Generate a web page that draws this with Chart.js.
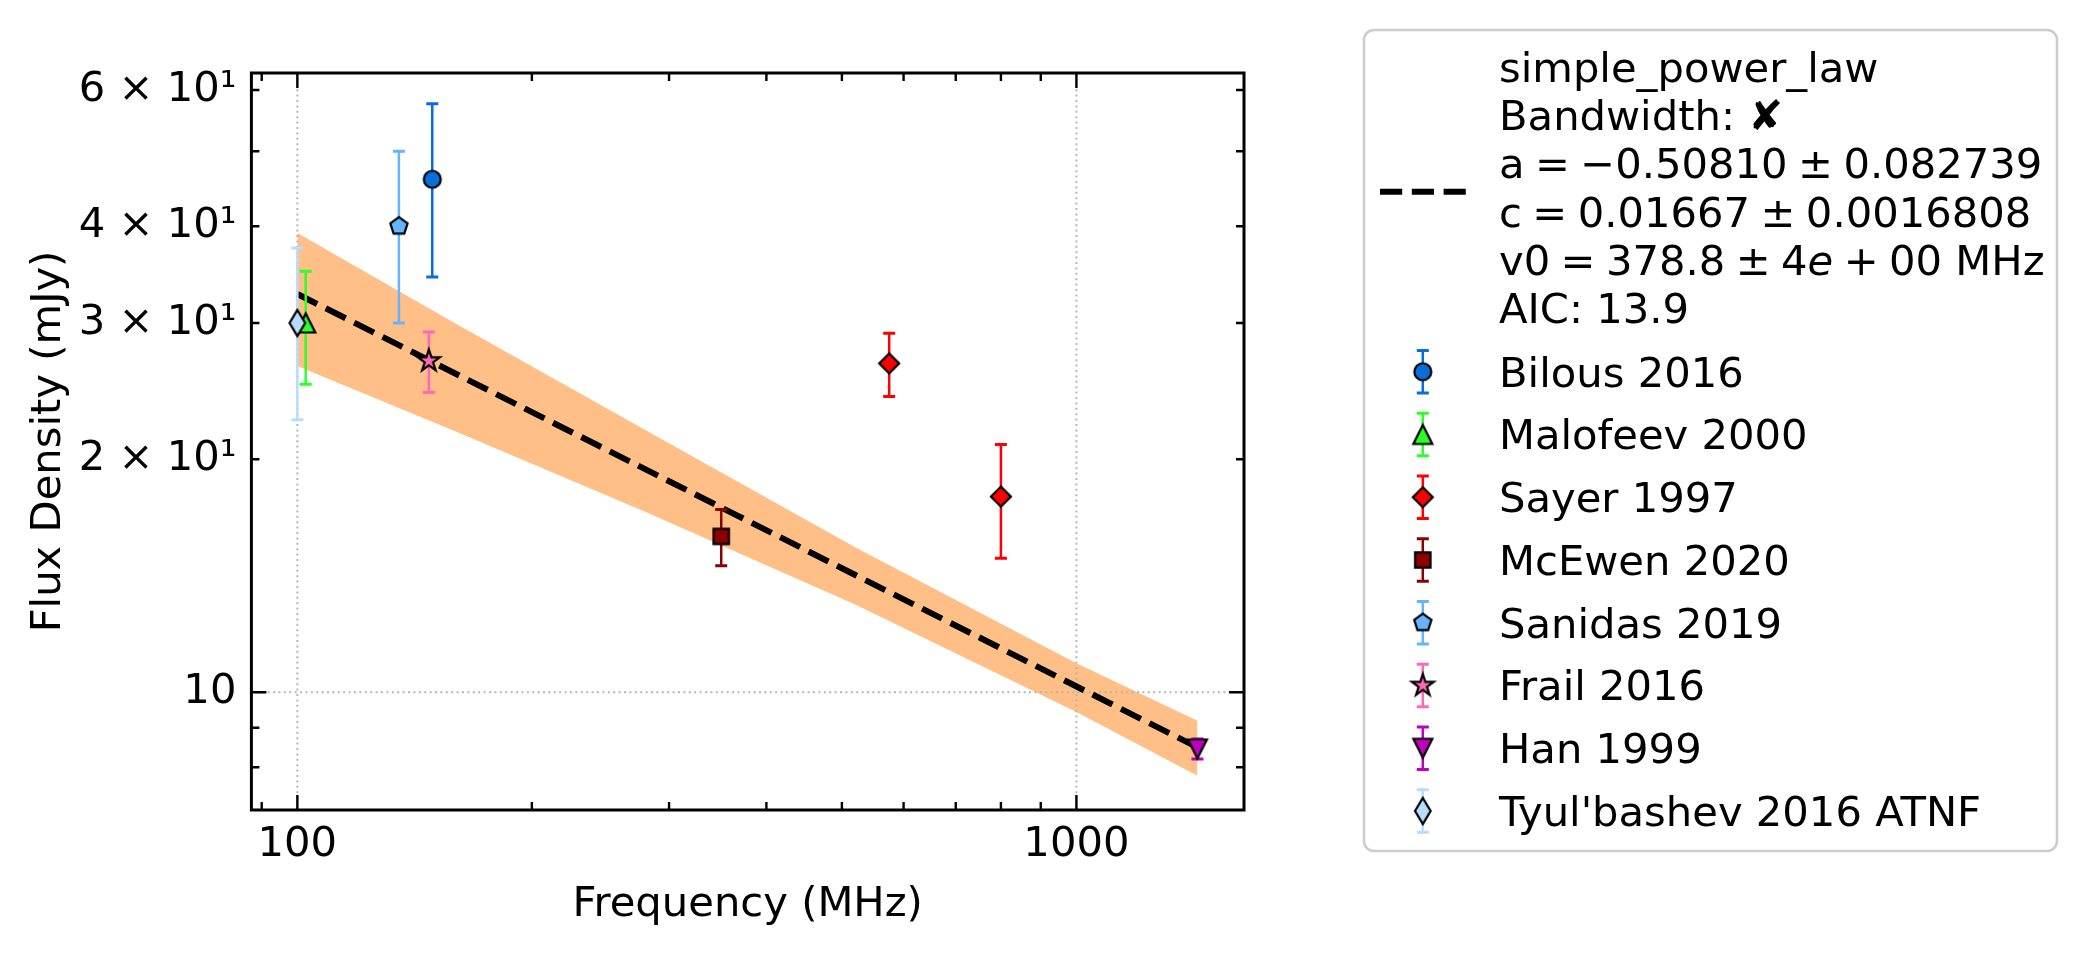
<!DOCTYPE html>
<html>
<head>
<meta charset="utf-8">
<script src="https://cdn.jsdelivr.net/npm/chart.js@4.4.1/dist/chart.umd.min.js"></script>
<style>
  html, body { margin: 0; padding: 0; background: #ffffff; }
  #wrap { width: 2086px; height: 955px; }
</style>
</head>
<body>
<div id="wrap"><canvas id="spectrumChart" width="2086" height="955"></canvas></div>
<script>
const FONT = "'DejaVu Sans', 'Liberation Sans', sans-serif";
const FONT_SIZE = 41.7;

// flux density measurements (MHz, mJy, 1-sigma error)
const bilousFreq = [149];          const bilousFlux = [46.0];        const bilousErr = [11.6];
const malofeevFreq = [102.5];      const malofeevFlux = [30.0];      const malofeevErr = [5.0];
const sayerFreq = [575, 800];      const sayerFlux = [26.6, 17.9];   const sayerErr = [2.5, 3.0];
const mcewenFreq = [350];          const mcewenFlux = [15.9];        const mcewenErr = [1.33];
const sanidasFreq = [135];         const sanidasFlux = [40.0];       const sanidasErr = [10.0];
const frailFreq = [147.5];         const frailFlux = [26.8];         const frailErr = [2.4];
const hanFreq = [1430];            const hanFlux = [8.45];           const hanErr = [0.25];
const tyulFreq = [100];            const tyulFlux = [30.0];          const tyulErr = [7.5];

// fitted power law and its uncertainty band
const fitFreq = [100, 1430];
const fitFlux = [32.7, 8.49];
const bandFreq = [100, 160, 280, 520, 1000, 1430];
const bandUpper = [39.2, 29.9, 21.8, 15.4, 10.9, 9.19];
const bandLower = [26.4, 21.7, 17.1, 12.98, 9.43, 7.80];

// math-style spacing (narrower than a normal space)
const SP = "\u2005";
const fitLegendLines = [
  [["simple_power_law", false]],
  [["Bandwidth: \u2718", false]],
  [["a" + SP + "=" + SP + "\u22120.50810" + SP + "\u00b1" + SP + "0.082739", false]],
  [["c" + SP + "=" + SP + "0.01667" + SP + "\u00b1" + SP + "0.0016808", false]],
  [["v0" + SP + "=" + SP + "378.8" + SP + "\u00b1" + SP + "4", false], ["e", true], [SP + "+" + SP + "00 MHz", false]],
  [["AIC: 13.9", false]]
];

// axis ticks
const xTickValues = [100, 1000];
const xTickLabels = ["100", "1000"];
const xMinorTicks = [90, 200, 300, 400, 500, 600, 700, 800, 900];
const yTickValues = [10, 20, 30, 40, 60];
const yTickLabels = ["10", "2 \u00d7 10\u00b9", "3 \u00d7 10\u00b9", "4 \u00d7 10\u00b9", "6 \u00d7 10\u00b9"];
const yMajorTicks = [10];
const yMinorTicks = [8, 9, 20, 30, 40, 50, 60];

function makeMarker(shape, fill) {
  const size = 34;
  const c = document.createElement("canvas");
  c.width = size;
  c.height = size;
  const g = c.getContext("2d");
  g.translate(size / 2, size / 2);
  g.beginPath();
  if (shape === "circle") {
    g.arc(0, 0, 8.5, 0, Math.PI * 2);
  } else if (shape === "triangleUp") {
    g.moveTo(0, -9.5); g.lineTo(9.5, 9.5); g.lineTo(-9.5, 9.5); g.closePath();
  } else if (shape === "triangleDown") {
    g.moveTo(0, 9.5); g.lineTo(9.5, -9.5); g.lineTo(-9.5, -9.5); g.closePath();
  } else if (shape === "diamond") {
    g.moveTo(0, -10); g.lineTo(10, 0); g.lineTo(0, 10); g.lineTo(-10, 0); g.closePath();
  } else if (shape === "thinDiamond") {
    g.moveTo(0, -13); g.lineTo(7.8, 0); g.lineTo(0, 13); g.lineTo(-7.8, 0); g.closePath();
  } else if (shape === "square") {
    g.rect(-7.7, -7.7, 15.4, 15.4);
  } else if (shape === "pentagon") {
    for (let k = 0; k < 5; k++) {
      const a = -Math.PI / 2 + k * 2 * Math.PI / 5;
      const px = 9.1 * Math.cos(a), py = 9.1 * Math.sin(a);
      if (k === 0) g.moveTo(px, py); else g.lineTo(px, py);
    }
    g.closePath();
  } else if (shape === "star") {
    for (let k = 0; k < 10; k++) {
      const a = -Math.PI / 2 + k * Math.PI / 5;
      const r = k % 2 === 0 ? 11.5 : 11.5 * 0.382;
      const px = r * Math.cos(a), py = r * Math.sin(a);
      if (k === 0) g.moveTo(px, py); else g.lineTo(px, py);
    }
    g.closePath();
  }
  g.fillStyle = fill;
  g.fill();
  g.lineWidth = 2.2;
  g.lineJoin = "miter";
  g.strokeStyle = "#000000";
  g.stroke();
  return c;
}

const sources = [
  { label: "Bilous 2016", freq: bilousFreq, flux: bilousFlux, err: bilousErr, color: "#0a6ed8", shape: "circle" },
  { label: "Malofeev 2000", freq: malofeevFreq, flux: malofeevFlux, err: malofeevErr, color: "#2cff2c", shape: "triangleUp" },
  { label: "Sayer 1997", freq: sayerFreq, flux: sayerFlux, err: sayerErr, color: "#ff0000", shape: "diamond" },
  { label: "McEwen 2020", freq: mcewenFreq, flux: mcewenFlux, err: mcewenErr, color: "#8b0000", shape: "square" },
  { label: "Sanidas 2019", freq: sanidasFreq, flux: sanidasFlux, err: sanidasErr, color: "#66b3ff", shape: "pentagon" },
  { label: "Frail 2016", freq: frailFreq, flux: frailFlux, err: frailErr, color: "#ff69b4", shape: "star" },
  { label: "Han 1999", freq: hanFreq, flux: hanFlux, err: hanErr, color: "#c000c0", shape: "triangleDown" },
  { label: "Tyul'bashev 2016 ATNF", freq: tyulFreq, flux: tyulFlux, err: tyulErr, color: "#b8dcff", shape: "thinDiamond" }
];

function pts(xs, ys) {
  return xs.map((x, i) => ({ x: x, y: ys[i] }));
}

// error bars are drawn just before each dataset's markers
const errorBars = {
  id: "errorBars",
  beforeDatasetDraw(chart, args) {
    const ds = chart.data.datasets[args.index];
    if (!ds.yErr) return;
    const ctx = chart.ctx;
    const xs = chart.scales.x, ys = chart.scales.y;
    ctx.save();
    ctx.strokeStyle = ds.errColor;
    ds.data.forEach((p, i) => {
      const px = xs.getPixelForValue(p.x);
      const top = ys.getPixelForValue(p.y + ds.yErr[i]);
      const bot = ys.getPixelForValue(p.y - ds.yErr[i]);
      ctx.lineWidth = 2.5;
      ctx.beginPath();
      ctx.moveTo(px, top);
      ctx.lineTo(px, bot);
      ctx.stroke();
      ctx.lineWidth = 3;
      ctx.beginPath();
      ctx.moveTo(px - 6, top); ctx.lineTo(px + 6, top);
      ctx.moveTo(px - 6, bot); ctx.lineTo(px + 6, bot);
      ctx.stroke();
    });
    ctx.restore();
  }
};

// dotted grid at the decades, inward ticks on all four sides, frame
const axesDecor = {
  id: "axesDecor",
  afterDatasetDraw(chart, args) {
    const ds = chart.data.datasets[args.index];
    if (!ds.gridAfter) return;
    const { ctx, chartArea: a } = chart;
    const xs = chart.scales.x, ys = chart.scales.y;
    ctx.save();
    ctx.strokeStyle = "#b5b5b5";
    ctx.lineWidth = 2;
    ctx.setLineDash([2, 3.4]);
    xTickValues.forEach(v => {
      const px = xs.getPixelForValue(v);
      ctx.beginPath(); ctx.moveTo(px, a.top); ctx.lineTo(px, a.bottom); ctx.stroke();
    });
    yMajorTicks.forEach(v => {
      const py = ys.getPixelForValue(v);
      ctx.beginPath(); ctx.moveTo(a.left, py); ctx.lineTo(a.right, py); ctx.stroke();
    });
    ctx.restore();
  },
  afterDatasetsDraw(chart) {
    const { ctx, chartArea: a } = chart;
    const xs = chart.scales.x, ys = chart.scales.y;
    ctx.save();
    ctx.strokeStyle = "#000000";
    ctx.lineWidth = 2.4;
    const xTick = (v, len) => {
      const px = xs.getPixelForValue(v);
      ctx.beginPath();
      ctx.moveTo(px, a.bottom); ctx.lineTo(px, a.bottom - len);
      ctx.moveTo(px, a.top); ctx.lineTo(px, a.top + len);
      ctx.stroke();
    };
    const yTick = (v, len) => {
      const py = ys.getPixelForValue(v);
      ctx.beginPath();
      ctx.moveTo(a.left, py); ctx.lineTo(a.left + len, py);
      ctx.moveTo(a.right, py); ctx.lineTo(a.right - len, py);
      ctx.stroke();
    };
    xTickValues.forEach(v => xTick(v, 15));
    xMinorTicks.forEach(v => xTick(v, 8));
    yMajorTicks.forEach(v => yTick(v, 15));
    yMinorTicks.forEach(v => yTick(v, 8));
    ctx.lineWidth = 3;
    ctx.strokeRect(a.left, a.top, a.right - a.left, a.bottom - a.top);
    ctx.restore();
  }
};

function drawSegments(ctx, segs, x, y) {
  let cx = x;
  segs.forEach(([text, italic]) => {
    ctx.font = (italic ? "italic " : "") + FONT_SIZE + "px " + FONT;
    ctx.fillText(text, cx, y);
    cx += ctx.measureText(text).width;
  });
}

const legendBox = {
  id: "legendBox",
  afterDraw(chart) {
    const ctx = chart.ctx;
    const bx = 1364, by = 30, bw = 693, bh = 821, r = 10;
    ctx.save();
    ctx.beginPath();
    ctx.moveTo(bx + r, by);
    ctx.lineTo(bx + bw - r, by);
    ctx.arcTo(bx + bw, by, bx + bw, by + r, r);
    ctx.lineTo(bx + bw, by + bh - r);
    ctx.arcTo(bx + bw, by + bh, bx + bw - r, by + bh, r);
    ctx.lineTo(bx + r, by + bh);
    ctx.arcTo(bx, by + bh, bx, by + bh - r, r);
    ctx.lineTo(bx, by + r);
    ctx.arcTo(bx, by, bx + r, by, r);
    ctx.closePath();
    ctx.fillStyle = "rgba(255,255,255,0.8)";
    ctx.fill();
    ctx.lineWidth = 2.5;
    ctx.strokeStyle = "#cccccc";
    ctx.stroke();

    // fit entry
    const fit = chart.data.datasets.find(d => d.isFit);
    ctx.strokeStyle = fit.borderColor;
    ctx.lineWidth = fit.borderWidth;
    ctx.setLineDash(fit.borderDash);
    ctx.beginPath();
    ctx.moveTo(1380, 191.7);
    ctx.lineTo(1466, 191.7);
    ctx.stroke();
    ctx.setLineDash([]);

    ctx.fillStyle = "#000000";
    ctx.textBaseline = "alphabetic";
    ctx.textAlign = "left";
    fitLegendLines.forEach((segs, k) => drawSegments(ctx, segs, 1499, 81.7 + 48.3 * k));

    // measurement entries
    const pointSets = chart.data.datasets.filter(d => d.yErr);
    pointSets.forEach((ds, k) => {
      const cy = 371.7 + 62.75 * k;
      const mx = 1422.8;
      ctx.strokeStyle = ds.errColor;
      ctx.lineWidth = 2.5;
      ctx.beginPath(); ctx.moveTo(mx, cy - 21.3); ctx.lineTo(mx, cy + 21.3); ctx.stroke();
      ctx.lineWidth = 3;
      ctx.beginPath();
      ctx.moveTo(mx - 6, cy - 21.3); ctx.lineTo(mx + 6, cy - 21.3);
      ctx.moveTo(mx - 6, cy + 21.3); ctx.lineTo(mx + 6, cy + 21.3);
      ctx.stroke();
      const img = ds.pointStyle;
      ctx.drawImage(img, mx - img.width / 2, cy - img.height / 2);
      ctx.fillStyle = "#000000";
      ctx.font = FONT_SIZE + "px " + FONT;
      ctx.fillText(ds.label, 1499, cy + 15);
    });
    ctx.restore();
  }
};

const datasets = [
  {
    type: "line", label: "band upper", data: pts(bandFreq, bandUpper),
    borderColor: "rgba(0,0,0,0)", borderWidth: 0, pointRadius: 0,
    fill: "+1", backgroundColor: "#ffbf86", order: 100
  },
  {
    type: "line", label: "band lower", data: pts(bandFreq, bandLower),
    borderColor: "rgba(0,0,0,0)", borderWidth: 0, pointRadius: 0,
    fill: false, order: 99, gridAfter: true
  },
  {
    type: "line", label: "simple_power_law", data: pts(fitFreq, fitFlux), isFit: true,
    borderColor: "#000000", borderWidth: 6, borderDash: [22.2, 9.6], borderCapStyle: "butt",
    pointRadius: 0, fill: false, order: 60
  }
];
sources.forEach((s, i) => {
  datasets.push({
    label: s.label,
    data: pts(s.freq, s.flux),
    yErr: s.err,
    errColor: s.color,
    pointStyle: makeMarker(s.shape, s.color),
    pointRadius: 10,
    order: 50 - i
  });
});

const ctx = document.getElementById("spectrumChart").getContext("2d");
const spectrumChart = new Chart(ctx, {
  type: "scatter",
  data: { datasets: datasets },
  plugins: [errorBars, axesDecor, legendBox],
  options: {
    responsive: false,
    animation: false,
    devicePixelRatio: 1,
    layout: { padding: { top: 73, right: 842, left: 0, bottom: 0 } },
    plugins: { legend: { display: false }, tooltip: { enabled: false } },
    scales: {
      x: {
        type: "logarithmic", position: "bottom", min: 87.3, max: 1641,
        afterBuildTicks: (s) => { s.ticks = xTickValues.map(v => ({ value: v })); },
        afterFit: (s) => { s.height = 145; },
        grid: { display: false, drawTicks: false },
        border: { display: false },
        ticks: {
          color: "#000000", padding: 10, maxRotation: 0, autoSkip: false,
          font: { family: FONT, size: FONT_SIZE },
          callback: (v, i) => xTickLabels[i]
        },
        title: {
          display: true, text: "Frequency (MHz)", color: "#000000",
          font: { family: FONT, size: FONT_SIZE }, padding: { top: 0, bottom: 25 }
        }
      },
      y: {
        type: "logarithmic", position: "left", min: 7.046, max: 63.1,
        afterBuildTicks: (s) => { s.ticks = yTickValues.map(v => ({ value: v })); },
        afterFit: (s) => { s.width = 251.4; },
        grid: { display: false, drawTicks: false },
        border: { display: false },
        ticks: {
          color: "#000000", padding: 15, autoSkip: false,
          font: { family: FONT, size: FONT_SIZE },
          callback: (v, i) => yTickLabels[i]
        },
        title: {
          display: true, text: "Flux Density (mJy)", color: "#000000",
          font: { family: FONT, size: FONT_SIZE }, padding: { top: 24.5, bottom: 0 }
        }
      }
    }
  }
});
</script>
</body>
</html>
